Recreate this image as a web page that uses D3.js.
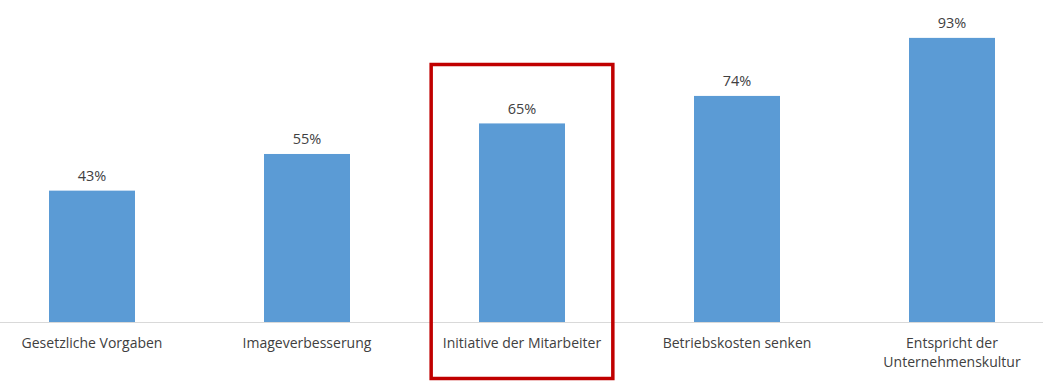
<!DOCTYPE html>
<html><head><meta charset="utf-8">
<script src="https://cdn.jsdelivr.net/npm/d3@7"></script>
<style>body{margin:0;background:#fff}svg{display:block}text{font-family:"Open Sans",sans-serif;fill:#404040}</style>
</head><body><svg id="c" width="1043" height="391"></svg>
<script>
const categories = ["Gesetzliche Vorgaben","Imageverbesserung","Initiative der Mitarbeiter","Betriebskosten senken","Entspricht der|Unternehmenskultur"];
const values = [43,55,65,74,93];
const highlighted = ["Initiative der Mitarbeiter"];

const svg = d3.select("#c");
const W = 1043, H = 391;
const x = d3.scaleBand().domain(categories).range([-15.5, 1059.5]).paddingInner(0.6).paddingOuter(0.3);
const y = d3.scaleLinear().domain([0,100]).range([322, 16.5]);

svg.append("g").selectAll("rect").data(values).join("rect")
  .attr("x",(d,i)=>x(categories[i])).attr("width",x.bandwidth())
  .attr("y",d=>y(d)).attr("height",d=>y(0)-y(d)).attr("fill","#5b9bd5");

svg.append("line").attr("x1",0).attr("x2",W).attr("y1",y(0)+0.5).attr("y2",y(0)+0.5)
  .attr("stroke","#d9d9d9").attr("stroke-width",1);

svg.append("g").selectAll("text").data(values).join("text")
  .attr("x",(d,i)=>x(categories[i])+x.bandwidth()/2).attr("y",d=>y(d)-9.5)
  .attr("text-anchor","middle").attr("font-size",14.5).text(d=>d+"%");

const lab = svg.append("g").selectAll("text").data(categories).join("text")
  .attr("x",d=>x(d)+x.bandwidth()/2).attr("y",348).attr("text-anchor","middle").attr("font-size",14);
lab.each(function(d){
  const parts=d.split("|");
  d3.select(this).selectAll("tspan").data(parts).join("tspan")
    .attr("x",x(d)+x.bandwidth()/2).attr("dy",(p,i)=>i===0?0:19).text(p=>p);
});

highlighted.forEach(h=>{
  const cx = x(h)+x.bandwidth()/2, bw = x.step()*0.845;
  svg.append("rect").attr("x",cx-bw/2).attr("width",bw).attr("y",64.5).attr("height",314)
    .attr("fill","none").attr("stroke","#c00000").attr("stroke-width",3.5);
});
</script></body></html>
